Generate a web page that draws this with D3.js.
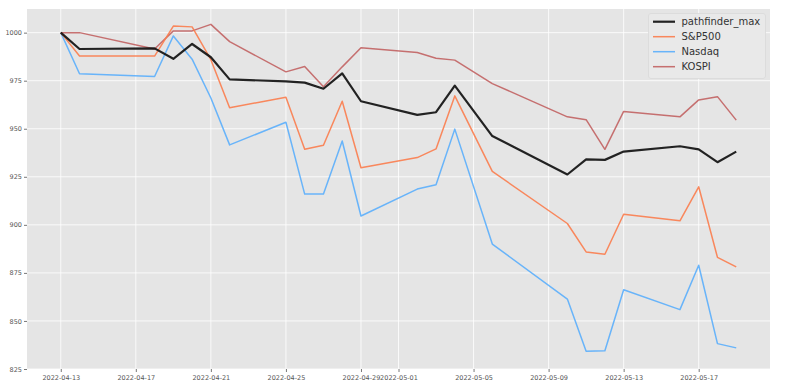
<!DOCTYPE html>
<html><head><meta charset="utf-8">
<script src="https://cdn.jsdelivr.net/npm/d3@7"></script>
<style>body{margin:0;background:#fff}svg{display:block}</style>
</head><body>
<script>
const dates = ["2022-04-13","2022-04-14","2022-04-18","2022-04-19","2022-04-20","2022-04-21","2022-04-22","2022-04-25","2022-04-26","2022-04-27","2022-04-28","2022-04-29","2022-05-02","2022-05-03","2022-05-04","2022-05-06","2022-05-10","2022-05-11","2022-05-12","2022-05-13","2022-05-16","2022-05-17","2022-05-18","2022-05-19"];
const pathfinder = [1000,991.5,991.8,986.4,994.1,987.2,975.7,974.6,974.0,970.8,978.8,964.3,957.2,958.6,972.4,946.2,926.2,934.1,933.8,938.1,940.9,939.3,932.6,938.1];
const sp500 = [1000,987.8,987.8,1003.4,1003.0,985.9,960.9,966.4,939.3,941.4,964.3,929.7,935.0,939.5,967.1,927.8,900.7,885.9,884.7,905.5,902.1,919.8,883.1,878.1];
const nasdaq = [1000,978.6,977.2,998.3,986.2,966.0,941.6,953.4,916.0,916.0,943.6,904.6,918.6,920.9,949.8,890.0,861.4,834.2,834.5,866.2,855.9,879.0,838.2,836.0];
const kospi = [1000,1000,991.5,1000.9,1000.9,1004.3,995.3,979.6,982.4,971.8,982.2,992.1,989.7,986.7,985.7,973.5,956.2,954.7,939.3,959.0,956.2,965.0,966.7,954.5];
const yTicks = [825,850,875,900,925,950,975,1000];
const xTickLabels = ["2022-04-13","2022-04-17","2022-04-21","2022-04-25","2022-04-29","2022-05-01","2022-05-05","2022-05-09","2022-05-13","2022-05-17"];
const seriesNames = ["pathfinder_max","S&P500","Nasdaq","KOSPI"];

const W=787,H=387;
const L=27,R=770,T=9,B=369;
const parse = d3.utcParse("%Y-%m-%d");
const x0 = parse(dates[0]).getTime(), x1 = parse(dates[dates.length-1]).getTime();
const pad = (x1-x0)*0.05;
const x = d3.scaleUtc().domain([new Date(x0-pad), new Date(x1+pad)]).range([L,R]);
const y = d3.scaleLinear().domain([825, 1012.3]).range([B,T]);

const svg = d3.select("body").append("svg").attr("width",W).attr("height",H);
svg.append("rect").attr("x",L).attr("y",T).attr("width",R-L).attr("height",B-T).attr("fill","#e5e5e5");

const xt = xTickLabels.map(parse);
const g = svg.append("g");
g.selectAll(".vg").data(xt).join("line").attr("x1",d=>x(d)).attr("x2",d=>x(d)).attr("y1",T).attr("y2",B).attr("stroke","#fff").attr("stroke-width",0.8);
g.selectAll(".hg").data(yTicks).join("line").attr("y1",d=>y(d)).attr("y2",d=>y(d)).attr("x1",L).attr("x2",R).attr("stroke","#fff").attr("stroke-width",0.8);

const xAxis = d3.axisBottom(x).tickValues(xt).tickFormat(d3.utcFormat("%Y-%m-%d")).tickSize(3).tickPadding(2);
const gx = svg.append("g").attr("transform",`translate(0,${B})`).call(xAxis);
const yAxis = d3.axisLeft(y).tickValues(yTicks).tickFormat(d3.format("d")).tickSize(3).tickPadding(2);
const gy = svg.append("g").attr("transform",`translate(${L},0)`).call(yAxis);
[gx,gy].forEach(a=>{
  a.select(".domain").remove();
  a.selectAll(".tick line").attr("stroke","#555").attr("stroke-width",0.8);
  a.selectAll("text").attr("fill","#555").style("font-family","DejaVu Sans").style("font-size","6.5px");
});
gx.selectAll("text").attr("dy","0.9em");

const sets = [
  {name:seriesNames[0], vals:pathfinder, color:"#111111", w:2.2, op:0.92},
  {name:seriesNames[1], vals:sp500, color:"#fb7c4c", w:1.5, op:0.9},
  {name:seriesNames[2], vals:nasdaq, color:"#5aaefc", w:1.5, op:0.9},
  {name:seriesNames[3], vals:kospi, color:"#c05a5a", w:1.5, op:0.85}
];
const line = d3.line().x((d,i)=>x(parse(dates[i]))).y(d=>y(d));
[3,2,1,0].forEach(k=>{
  const s=sets[k];
  svg.append("path").datum(s.vals).attr("d",line).attr("fill","none").attr("stroke",s.color).attr("stroke-width",s.w).attr("stroke-opacity",s.op).attr("stroke-linejoin","round");
});

const lg = svg.append("g");
lg.append("rect").attr("x",648.5).attr("y",13.5).attr("width",117).attr("height",65).attr("rx",2.5).attr("fill","#e9e9e9").attr("stroke","#d9d9d9").attr("stroke-width",0.8);
sets.forEach((s,i)=>{
  const yy = 21.7 + i*15;
  lg.append("line").attr("x1",653).attr("x2",675).attr("y1",yy).attr("y2",yy).attr("stroke",s.color).attr("stroke-width",s.w).attr("stroke-opacity",s.op);
  lg.append("text").attr("x",681.5).attr("y",yy).attr("dy","0.35em").text(s.name).attr("fill","#333").style("font-family","DejaVu Sans").style("font-size","10px");
});
</script>
</body></html>
